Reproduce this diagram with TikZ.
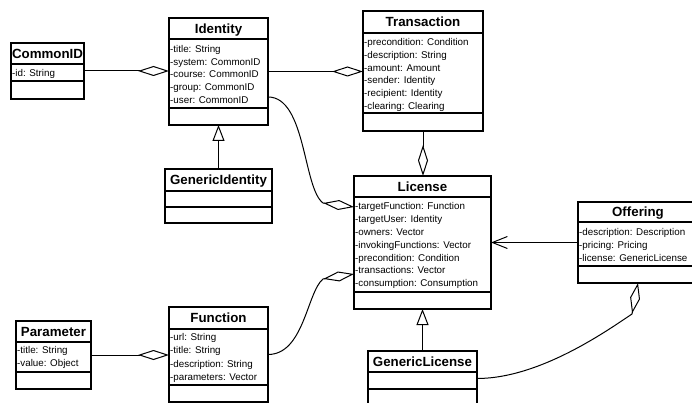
\documentclass[tikz,border=0pt]{standalone}
\usepackage{fontspec}
\setmainfont{Liberation Sans}
\usetikzlibrary{arrows.meta}

\tikzset{
  classbox/.style={draw, line width=1.1pt, rectangle, inner sep=0pt, outer sep=0pt},
  boxline/.style={line width=1.1pt},
  classtitle/.style={font=\fontsize{13.3}{14}\selectfont\bfseries, inner sep=0pt, text height=9.6pt, text depth=0pt},
  attr/.style={font=\fontsize{9.8}{11}\selectfont, inner sep=0pt, anchor=west, text height=7pt, text depth=0pt},
  conn/.style={line width=1pt},
  agg/.style={conn, -{Diamond[open,length=31pt,width=10pt]}},
  inherit/.style={conn, -{Triangle[open,length=16pt,width=12pt]}},
  navig/.style={conn, -{Straight Barb[length=15pt,width=12pt]}},
}

\newcommand{\umlclass}[8]{%
  \pgfmathsetmacro{\umlW}{#4-#2}%
  \pgfmathsetmacro{\umlH}{#5-#3}%
  \node[classbox, minimum width=\umlW pt, minimum height=\umlH pt, anchor=north west] (#1) at (#2,#3) {};
  \draw[boxline] (#2,#6) -- (#4,#6);
  \draw[boxline] (#2,#7) -- (#4,#7);
  \node[classtitle] (#1-title) at ({(#2+#4)/2},{(#3+#6)/2}) {#8};
}
\newcommand{\umlattrs}[5]{%
  \foreach \umlT [count=\umlI] in {#5} {%
    \node[attr] (#1-a\umlI) at ({#2+1},{#3+(\umlI-1)*#4}) {\umlT};
  }%
}

\begin{document}
\begin{tikzpicture}[x=1pt,y=-1pt]
\fill[white] (0,0) rectangle (692,403);
\path[use as bounding box, clip] (0,0) rectangle (692,403);

% classes
\umlclass{commonid}{11}{43}{84}{99}{64}{81}{CommonID}
\umlattrs{commonid}{11}{73.3}{13}{-id: String}

\umlclass{identity}{169}{18}{268}{125}{39}{108}{Identity}
\umlattrs{identity}{169}{49}{12.75}{-title: String,-system: CommonID,-course: CommonID,-group: CommonID,-user: CommonID}

\umlclass{genericidentity}{165}{169}{272}{223}{191}{207}{GenericIdentity}

\umlclass{transaction}{363}{11}{483}{131}{33}{113}{Transaction}
\umlattrs{transaction}{363}{42}{12.8}{-precondition: Condition,-description: String,-amount: Amount,-sender: Identity,-recipient: Identity,-clearing: Clearing}

\umlclass{license}{354}{176}{491}{309}{197}{292}{License}
\umlattrs{license}{354}{205.7}{12.95}{-targetFunction: Function,-targetUser: Identity,-owners: Vector,-invokingFunctions: Vector,-precondition: Condition,-transactions: Vector,-consumption: Consumption}

\umlclass{offering}{578}{202}{698}{283}{222}{266}{Offering}
\umlattrs{offering}{578}{231.7}{13}{-description: Description,-pricing: Pricing,-license: GenericLicense}

\umlclass{genericlicense}{368}{351}{477}{406}{372}{389}{GenericLicense}

\umlclass{function}{169}{307}{268}{402}{329}{385}{Function}
\umlattrs{function}{169}{337.3}{13.1}{-url: String,-title: String,-description: String,-parameters: Vector}

\umlclass{parameter}{16}{321}{91}{389}{342}{372}{Parameter}
\umlattrs{parameter}{16}{350.3}{13}{-title: String,-value: Object}

% connectors
\draw[agg] (commonid.east) -- (commonid.east -| identity.west);
\draw[agg] (identity.east) -- (identity.east -| transaction.west);
\draw[agg] (transaction.south) -- (transaction.south |- license.north);
\draw[inherit] (genericidentity.north) -- (genericidentity.north |- identity.south);
\draw[inherit] (genericlicense.north) -- (genericlicense.north |- license.south);
\draw[navig] (offering.west) -- (offering.west -| license.east);
\draw[agg] (parameter.east) -- (parameter.east -| function.west);

\draw[agg] ([yshift=-25.5pt]identity.east) .. controls (306,97) and (303,188) .. (323,203) -- ([yshift=35.5pt]license.west);
\draw[agg] (function.east) .. controls (304,354.5) and (307,292) .. (323,279) -- ([yshift=-31.5pt]license.west);
\draw[agg] (genericlicense.east) .. controls (540,378.5) and (608,330) .. (632,314) -- (offering.south);
\end{tikzpicture}
\end{document}
